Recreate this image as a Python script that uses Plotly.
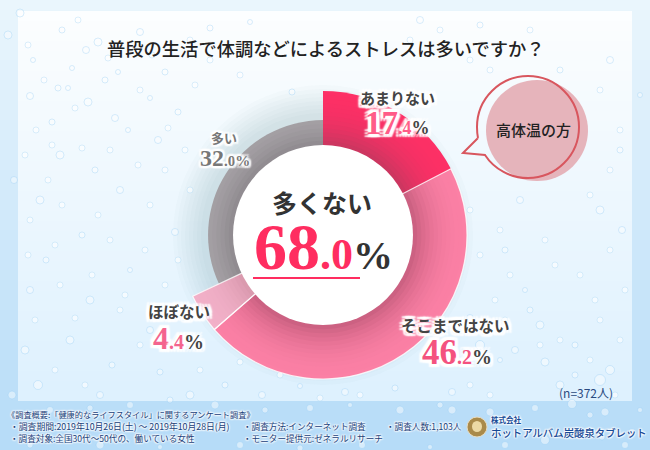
import plotly.graph_objects as go

W, H = 650, 450
JP = "Noto Sans CJK JP"
SERIF = "Liberation Serif"

# chart values
categories = ["あまりない", "そこまではない", "ほぼない", "多い"]
values = [17.4, 46.2, 4.4, 32.0]

# slice colours, outer edge -> next to the hole
outer_colors = [(253, 48, 102), (251, 128, 165), (242, 176, 200), (172, 168, 172)]
inner_colors = [(196, 56, 96), (196, 92, 124), (214, 150, 170), (140, 135, 140)]

# background bubbles
bubble_x = [20, 62, 86, 33, 58, 98, 118, 140, 165, 88, 52, 72, 115, 150, 178, 30, 68, 105, 60, 95, 128, 158, 40, 82,
            120, 46, 90, 130, 175, 70, 112, 150, 38, 100, 160, 190, 225, 262, 300, 345, 395, 452, 210, 250, 292, 420,
            480, 610, 560, 520, 600, 480, 515, 545, 575, 610, 470, 500, 530, 560, 600, 540, 575, 505, 525, 622,
            14, 8, 30, 25, 620, 640, 12, 50, 90, 130, 170, 215, 265, 310, 350, 400, 440, 490, 535, 572, 590, 605, 640, 632,
            30, 100, 160, 240, 300, 362, 430, 452, 505, 545, 602, 625]
bubble_y = [13, 30, 50, 60, 88, 42, 72, 32, 72, 102, 122, 68, 118, 98, 112, 96, 88, 80, 155, 170, 130, 140, 200, 235,
            190, 260, 300, 270, 232, 340, 365, 330, 385, 395, 372, 395, 385, 395, 386, 392, 388, 392, 28, 22, 92, 20,
            25, 60, 70, 200, 210, 345, 350, 362, 345, 370, 318, 360, 310, 385, 380, 325, 375, 250, 290, 230,
            180, 35, 290, 350, 150, 95, 395, 410, 408, 405, 400, 405, 410, 408, 405, 410, 405, 412, 408, 404, 415, 412, 410, 432,
            445, 445, 447, 445, 448, 445, 447, 410, 445, 440, 437, 445]
bubble_s = [8, 6, 7, 5, 6, 8, 5, 7, 6, 8, 6, 5, 7, 5, 6, 7, 5, 6, 8, 6, 5, 7, 8, 6,
            7, 6, 8, 5, 7, 8, 6, 7, 9, 7, 6, 8, 6, 7, 5, 7, 6, 7, 6, 5, 6, 7,
            6, 7, 6, 7, 8, 9, 7, 8, 6, 9, 7, 5, 6, 8, 11, 8, 6, 6, 5, 7,
            7, 8, 7, 8, 6, 5, 8, 7, 6, 7, 6, 8, 6, 7, 5, 8, 6, 8, 7, 9, 6, 8, 5, 7,
            6, 8, 5, 7, 6, 7, 5, 8, 7, 9, 6, 7]

# fainter, smaller bubbles filling the panel
small_x = [28, 44, 78, 108, 130, 152, 190, 210, 240, 75, 36, 52, 140, 168, 195, 25, 48, 82, 110, 138, 165, 185,
           30, 62, 98, 150, 190, 28, 55, 110, 145, 178, 60, 92, 125, 165, 35, 75, 120, 140, 55, 85, 200, 240, 280,
           320, 360, 410, 440, 470, 500, 530, 490, 445, 470, 500, 600, 620, 590, 610, 480, 510, 545, 495, 555, 595, 620,
           610, 580, 625, 600, 560, 590, 615, 505, 540, 470, 490]
small_y = [45, 80, 20, 58, 48, 55, 40, 60, 75, 108, 130, 145, 90, 128, 85, 155, 180, 148, 150, 165, 170, 150,
           220, 205, 215, 205, 190, 255, 245, 240, 250, 260, 285, 275, 295, 285, 320, 318, 310, 345, 370, 385, 370, 362, 375,
           398, 395, 40, 30, 60, 45, 30, 70, 175, 210, 230, 90, 130, 195, 170, 255, 275, 240, 300, 265, 300, 340,
           250, 275, 290, 320, 340, 360, 395, 320, 345, 385, 395]

CX, CY = 323, 235
R_OUT, R_GRAY, R_HOLE = 144, 118, 90


def domain(r):
    return dict(x=[(CX - r) / W, (CX + r) / W], y=[1 - (CY + r) / H, 1 - (CY - r) / H])


def mix(a, b, t):
    return "rgb(%d,%d,%d)" % tuple(a[i] + (b[i] - a[i]) * t for i in range(3))


fig = go.Figure()

fig.add_trace(go.Scatter(
    x=small_x, y=small_y, mode="markers", hoverinfo="skip", showlegend=False,
    marker=dict(size=6, color="rgba(255,255,255,0.6)", line=dict(width=1, color="rgba(170,215,245,0.4)")),
))
fig.add_trace(go.Scatter(
    x=bubble_x, y=bubble_y, mode="markers", hoverinfo="skip", showlegend=False,
    marker=dict(size=bubble_s, color="rgba(255,255,255,0.65)", line=dict(width=1, color="rgba(150,205,245,0.5)")),
))

# stacked pies, largest first, give the shading towards the hole
for step in range(14):
    r = R_OUT - step * (R_OUT - R_HOLE) / 13
    t = (step / 13) ** 2.2
    colors = [mix(outer_colors[i], inner_colors[i], t) for i in range(3)]
    colors.append(mix(outer_colors[3], inner_colors[3], t) if r <= R_GRAY else "rgba(0,0,0,0)")
    fig.add_trace(go.Pie(
        labels=categories, values=values, sort=False, direction="clockwise", rotation=0,
        domain=domain(r), textinfo="none", hoverinfo="skip", showlegend=False,
        marker=dict(colors=colors, line=dict(width=0)),
    ))

# thin white dividers between the slices
fig.add_trace(go.Pie(
    labels=categories, values=values, sort=False, direction="clockwise", rotation=0,
    domain=domain(R_OUT), textinfo="none", hoverinfo="skip", showlegend=False,
    marker=dict(colors=["rgba(0,0,0,0)"] * 4,
                line=dict(width=[0, 1.2, 1.2, 0], color="rgba(255,255,255,0.8)")),
))

shapes = []


def rect(x0, y0, x1, y1, color):
    shapes.append(dict(type="rect", x0=x0, y0=y0, x1=x1, y1=y1, layer="below", fillcolor=color, line_width=0))


# page and panel gradients
for i in range(45):
    t = i / 44
    y0, y1 = i * 10, (i + 1) * 10
    rect(0, y0, W, y1, mix((234, 246, 253), (182, 220, 248), t))
for i in range(39):
    t = i / 38
    rect(18, 11 + i * 10, 632, min(11 + (i + 1) * 10, 402), mix((252, 254, 255), (222, 241, 254), t))

# soft glow around the donut
for r in (150, 146, 142, 138, 134, 130, 126, 122):
    shapes.append(dict(type="circle", x0=CX - r, x1=CX + r, y0=CY - r, y1=CY + r, layer="below",
                       fillcolor="rgba(70,80,90,0.018)", line_width=0))

# centre of the donut
shapes.append(dict(type="circle", x0=CX - R_HOLE, x1=CX + R_HOLE, y0=CY - R_HOLE, y1=CY + R_HOLE,
                   layer="above", fillcolor="white", line_width=0))
shapes.append(dict(type="line", x0=253, x1=360, y0=278, y1=278, layer="above", line=dict(color="#ff2d60", width=2)))

# speech bubble
shapes.append(dict(type="circle", x0=486, x1=588, y0=80, y1=181, layer="above",
                   fillcolor="rgba(226,160,168,0.78)", line_width=0))
shapes.append(dict(type="path", layer="above", line=dict(color="#d8565e", width=2),
                   path="M 478 138 L 463 153 L 485 155 C 494.4 169.5 510.7 178 528 178 "
                        "C 556.2 178 579 155.2 579 127 C 579 98.8 556.2 76 528 76 "
                        "C 499.8 76 477 98.8 477 127 C 477 131 477.3 134.5 478 138"))

# logo
shapes.append(dict(type="circle", x0=467, x1=487, y0=417, y1=437, layer="above", fillcolor="#a98a4a",
                   line=dict(color="#e8dcc0", width=1)))
shapes.append(dict(type="circle", x0=472, x1=482, y0=421, y1=432, layer="above", fillcolor="#ecd9a4", line_width=0))


def halo(px, color="white"):
    dirs = [(1, 0), (-1, 0), (0, 1), (0, -1), (1, 1), (-1, -1), (1, -1), (-1, 1)]
    return ", ".join(f"{a * px}px {b * px}px 1.5px {color}" for a, b in dirs)


def note(x, y, text, size, color, family=JP, weight="normal", anchor="center", shadow=None):
    font = dict(size=size, color=color, family=family, weight=weight)
    if shadow:
        font["shadow"] = shadow
    fig.add_annotation(x=x, y=y, xref="x", yref="y", text=text, showarrow=False, xanchor=anchor, yanchor="middle",
                       font=font, borderpad=0, borderwidth=0)


def number(big, small, big_size, small_size, color, pct="#444444", pct_size=None):
    return (f'<span style="font-size:{big_size}px;color:{color}">{big}</span>'
            f'<span style="font-size:{small_size}px;color:{color}">{small}</span>'
            f'<span style="font-size:{pct_size or small_size}px;color:{pct}">%</span>')


note(326, 48, "普段の生活で体調などによるストレスは多いですか？", 18.3, "#222222", weight=500)

note(397, 97, categories[0], 15, "#444444", weight=700, shadow=halo(3))
note(397, 123, number("17", ".4", 33, 18, "#ff5c88"), 18, "#444444", SERIF, 700, shadow=halo(3))
note(455, 325, categories[1], 15.5, "#444444", weight=700, shadow=halo(3))
note(457, 352, number("46", ".2", 35, 20, "#f4527f"), 20, "#444444", SERIF, 700, shadow=halo(3))
note(179, 311, categories[2], 15.5, "#444444", weight=700, shadow=halo(3))
note(178, 338, number("4", ".4", 32, 20, "#f4648e"), 20, "#444444", SERIF, 700, shadow=halo(3))
note(224, 137, categories[3], 13, "#777777", weight=700, shadow=halo(2))
note(225, 158, number("32", ".0", 24, 15, "#777777", "#777777"), 15, "#777777", SERIF, 700, shadow=halo(2))

note(322, 202, "多くない", 25, "#333333", weight=700)
note(323, 246, number("68", ".0", 66, 44, "#ff2d60", "#333333", 40), 44, "#333333", SERIF, 700)

note(533, 129, "高体温の方", 15, "#222222", weight=500)
note(586, 392, "(n=372人)", 12, "#2a4a80")

NAVY = "#1a3f7a"
FOOT = halo(1, "rgba(255,255,255,0.6)")
note(7, 414, "《調査概要:「健康的なライフスタイル」に関するアンケート調査》", 8.2, NAVY, anchor="left", shadow=FOOT)
note(10, 426, "・調査期間:2019年10月26日(土) ～ 2019年10月28日(月)", 8.8, NAVY, anchor="left", shadow=FOOT)
note(10, 438, "・調査対象:全国30代～50代の、働いている女性", 8.6, NAVY, anchor="left", shadow=FOOT)
note(243, 426, "・調査方法:インターネット調査", 8.6, NAVY, anchor="left", shadow=FOOT)
note(243, 438, "・モニター提供元:ゼネラルリサーチ", 8.6, NAVY, anchor="left", shadow=FOOT)
note(386, 426, "・調査人数:1,103人", 8.6, NAVY, anchor="left", shadow=FOOT)
note(491, 419.5, "株式会社", 7.5, "#174a96", weight=700, anchor="left", shadow=FOOT)
note(491, 432, "ホットアルバム炭酸泉タブレット", 10.4, "#174a96", weight=500, anchor="left", shadow=FOOT)

fig.update_layout(
    width=W, height=H, margin=dict(l=0, r=0, t=0, b=0), showlegend=False,
    paper_bgcolor="#d8ecfa", plot_bgcolor="rgba(0,0,0,0)", shapes=shapes,
    xaxis=dict(range=[0, W], visible=False, fixedrange=True),
    yaxis=dict(range=[H, 0], visible=False, fixedrange=True),
)

fig.write_html("out.html", config={"displayModeBar": False},
               post_script="document.body.style.margin='0';")
